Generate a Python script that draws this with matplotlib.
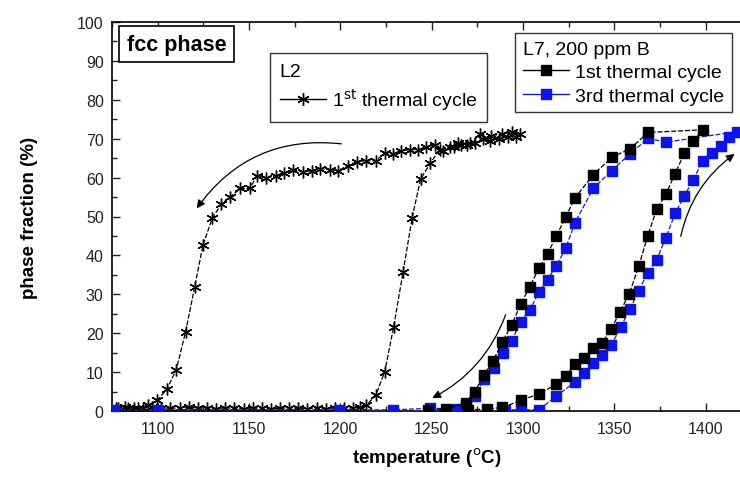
import matplotlib
matplotlib.use("Agg")
import matplotlib.pyplot as plt
from matplotlib.ticker import MultipleLocator
from matplotlib.lines import Line2D

plt.rcParams['font.family'] = ['Liberation Sans', 'DejaVu Sans']

# ---- L2, 1st thermal cycle (asterisks) ----
l2_heat_T = [1077, 1082, 1087, 1092, 1097, 1102, 1107, 1112, 1117, 1122, 1127, 1132, 1137,
             1142, 1147, 1152, 1157, 1162, 1167, 1172, 1177, 1182, 1187, 1192, 1197, 1202,
             1207, 1211, 1214.3, 1219.4, 1224.3, 1229.2, 1234.3, 1239.3, 1243.9, 1249.3,
             1254.4, 1259.9, 1264.5, 1269.1, 1273.6, 1278.2, 1282.7, 1288.2, 1293.7, 1298.2]
l2_heat_F = [0.8, 0.9, 0.7, 0.8, 0.9, 0.8, 0.7, 0.8, 0.9, 0.8, 0.7, 0.6, 0.8,
             0.7, 0.6, 0.8, 0.7, 0.6, 0.7, 0.8, 0.7, 0.6, 0.7, 0.6, 0.8, 0.7,
             0.8, 0.9, 1.5, 4.1, 10.1, 21.7, 35.7, 49.7, 59.6, 63.8,
             67.2, 67.8, 69.0, 68.4, 69.0, 69.9, 70.8, 71.2, 71.6, 71.2]
l2_cool_T = [1296, 1291.7, 1287, 1282, 1276.7, 1271, 1266, 1262, 1256.2, 1251.6, 1247.1,
             1242.5, 1237.9, 1233.4, 1228.8, 1224.3, 1219.3, 1214.3, 1209.1, 1204.2, 1198.7,
             1194.2, 1189.1, 1184.2, 1179.6, 1174.1, 1169, 1164.5, 1159.5, 1154.4, 1150.4,
             1145.3, 1139.8, 1134.9, 1130, 1124.8, 1120.3, 1115.3, 1110.2, 1105.1, 1099.8,
             1094.7, 1089.2, 1083.7, 1078.3]
l2_cool_F = [70.5, 70.5, 70.0, 69.5, 71.2, 69.0, 68.4, 67.8, 66.9, 68.4, 67.8,
             67.2, 67.2, 66.9, 66.1, 66.3, 64.3, 64.3, 64.1, 63.1, 61.8,
             62.0, 62.3, 61.8, 61.4, 62.0, 61.2, 60.5, 59.8, 60.5, 57.2,
             57.2, 55.1, 53.2, 49.7, 42.7, 32.0, 20.4, 10.6, 5.7, 2.7,
             1.5, 0.8, 0.8, 0.8]

# ---- L7, 200 ppm B, 1st thermal cycle (black squares) ----
l7c1_T = [1270, 1280, 1288.6, 1298.6, 1308.7, 1318.3, 1323.4, 1328.4, 1333.3, 1338.4, 1343.3,
          1348.3, 1353, 1358.1, 1363.3, 1368.2, 1373.1, 1378.2, 1383.1, 1388.2, 1393.2, 1398.3,
          1368.5, 1358.5, 1348.5, 1338.4, 1328.4, 1323.3, 1318.3, 1313.4, 1308.7, 1303.7,
          1298.8, 1293.7, 1288.6, 1283.6, 1278.7, 1273.6, 1268.5, 1258, 1248]
l7c1_F = [0.3, 0.5, 0.9, 2.7, 4.4, 6.9, 9.0, 12.0, 13.5, 16.2, 17.5,
          21.1, 25.5, 30.1, 37.2, 45.0, 51.8, 55.8, 60.9, 66.2, 69.5, 72.3,
          71.6, 67.4, 65.2, 60.7, 54.8, 49.8, 45.1, 40.4, 36.7, 32.0,
          27.5, 22.1, 17.7, 12.9, 9.3, 5.0, 2.1, 0.5, 0.3]

# ---- L7, 200 ppm B, 3rd thermal cycle (blue squares) ----
l7c3_T = [1290, 1299, 1308.7, 1318.3, 1328.4, 1333.3, 1338.4, 1343.3, 1348.3, 1353.4, 1358.5,
          1363.4, 1368.2, 1373.1, 1378.2, 1383.3, 1388.2, 1393.2, 1398.3, 1403.2, 1408.2,
          1412.9, 1416.9,
          1378.2, 1368.5, 1358.5, 1348.5, 1338.4, 1328.4, 1323.3, 1318.3, 1313.4, 1308.7,
          1303.7, 1298.6, 1293.7, 1288.8, 1284, 1278.7, 1273.6, 1268.7, 1263.6, 1249,
          1229, 1199, 1100, 1076]
l7c3_F = [0.3, 0.3, 0.3, 3.9, 7.4, 9.8, 12.3, 14.5, 17.0, 21.5, 26.2,
          30.9, 35.6, 38.9, 44.6, 50.9, 55.2, 59.5, 64.3, 66.2, 68.2,
          70.4, 71.8,
          69.1, 70.1, 66.1, 61.8, 57.2, 48.4, 41.8, 37.4, 33.8, 30.5,
          26.0, 23.0, 17.9, 14.9, 11.0, 8.2, 3.9, 1.2, 0.5, 0.7,
          0.3, 0.3, 0.3, 0.2]

x_ticks = [1100, 1150, 1200, 1250, 1300, 1350, 1400]
y_ticks = [0, 10, 20, 30, 40, 50, 60, 70, 80, 90, 100]

fig = plt.figure(figsize=(7.40, 4.89), dpi=100)
ax = fig.add_axes([112/740, 1-412/489, (742.3-112)/740, (412-23)/489])

star = (6, 2, 0)
ax.plot(l2_heat_T, l2_heat_F, color='black', lw=0.9, ls='--', dashes=(4, 1.5),
        marker=star, ms=8.5, mew=1.0, zorder=3)
ax.plot(l2_cool_T, l2_cool_F, color='black', lw=0.9, ls='--', dashes=(4, 1.5),
        marker=star, ms=8.5, mew=1.0, zorder=3)
ax.plot(l7c3_T, l7c3_F, color='#1c1cb0', lw=0.9, ls='--', dashes=(4, 1.5),
        marker='s', ms=6.5, mfc='#0a14f0', mec='#0a14f0', zorder=4)
ax.plot(l7c1_T, l7c1_F, color='black', lw=0.9, ls='--', dashes=(4, 1.5),
        marker='s', ms=6.5, mfc='black', mec='black', zorder=5)

ax.set_xlim(1075, 1420)
ax.set_ylim(0, 100)
ax.set_xticks(x_ticks)
ax.set_yticks(y_ticks)
ax.xaxis.set_minor_locator(MultipleLocator(25))
ax.yaxis.set_minor_locator(MultipleLocator(5))
ax.tick_params(which='both', direction='in', top=True, right=False, labelsize=11.5,
               colors='#222222')
ax.tick_params(which='major', length=6, width=1)
ax.tick_params(which='minor', length=3.5, width=1)
ax.tick_params(axis='x', pad=7)
ax.tick_params(axis='y', pad=6)
for s in ['left', 'bottom', 'top']:
    ax.spines[s].set_linewidth(1.2)
ax.spines['right'].set_visible(False)

ax.set_xlabel('temperature ($^{\\rm o}$C)', fontsize=13.5, fontweight='bold', labelpad=7)
ax.set_ylabel('phase fraction (%)', fontsize=13.5, fontweight='bold', labelpad=28)

# title box
ax.text(1083, 94.3, 'fcc phase', fontsize=15.5, fontweight='bold', ha='left', va='center',
        bbox=dict(boxstyle='square,pad=0.35', fc='white', ec='black', lw=1.2))

# L2 legend box
h1 = Line2D([], [], color='black', lw=1, marker=star, ms=9, mew=1)
leg1 = ax.legend([h1], ['1$^{\\rm st}$ thermal cycle'], title='L2', alignment='left',
                 loc='upper left', bbox_to_anchor=((270-112)/630.3, 1-(54-23)/389),
                 frameon=True, fancybox=False, edgecolor='black', fontsize=14,
                 title_fontsize=14, handlelength=2.4, borderpad=0.5, labelspacing=0.35,
                 handletextpad=0.3, borderaxespad=0)
leg1.get_frame().set_linewidth(1.0)
ax.add_artist(leg1)

h2 = Line2D([], [], color='black', lw=1, marker='s', ms=6.5)
h3 = Line2D([], [], color='#1c1cb0', lw=1, marker='s', ms=6.5, mfc='#0a14f0', mec='#0a14f0')
leg2 = ax.legend([h2, h3], ['1st thermal cycle', '3rd thermal cycle'], title='L7, 200 ppm B',
                 alignment='left', loc='upper left',
                 bbox_to_anchor=((515-112)/630.3, 1-(34-23)/389),
                 frameon=True, fancybox=False, edgecolor='black', fontsize=14,
                 title_fontsize=14, handlelength=2.4, borderpad=0.4, labelspacing=0.3,
                 handletextpad=0.3, borderaxespad=0)
leg2.get_frame().set_linewidth(1.0)

# arrows
ap = dict(arrowstyle='-|>', color='black', lw=0.9, mutation_scale=12)
ax.annotate('', xy=(1120.5, 51.5), xytext=(1202, 68.6),
            arrowprops=dict(ap, connectionstyle='arc3,rad=0.3'))
ax.annotate('', xy=(1249, 3.0), xytext=(1291, 25.4),
            arrowprops=dict(ap, connectionstyle='arc3,rad=-0.2'))
ax.annotate('', xy=(1417, 66.5), xytext=(1386, 44.2),
            arrowprops=dict(ap, connectionstyle='arc3,rad=-0.2'))

fig.savefig('out.png', dpi=100)
